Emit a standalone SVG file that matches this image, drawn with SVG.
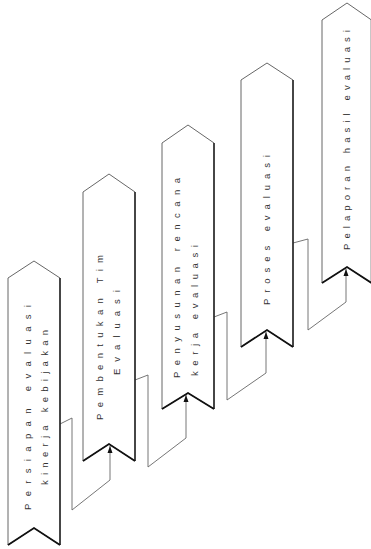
<svg xmlns="http://www.w3.org/2000/svg" width="371" height="549" viewBox="0 0 371 549">
<style>
.box{fill:#fff;stroke:#555;stroke-width:0.9}
.edge{fill:none;stroke:#222;stroke-width:1.5}
.notch{fill:none;stroke:#111;stroke-width:1.8}
.lbl{font-family:"Liberation Sans",Arial,sans-serif;font-size:9.5px;fill:#333}
.con{fill:none;stroke:#666;stroke-width:0.9}
</style>
<defs>
<marker id="arr" markerUnits="userSpaceOnUse" markerWidth="8" markerHeight="8" refX="7" refY="4" orient="auto">
<path d="M0,1.5 L7,4 L0,6.5 Z" fill="#111"/>
</marker>
</defs>
<rect width="371" height="549" fill="#fff"/>
<g id="connectors">
<polyline class="con" points="60,424 72,418 72,510 110,480 110,446" marker-end="url(#arr)"/>
<polyline class="con" points="135,380 148,375 148,467 186,438 186,395" marker-end="url(#arr)"/>
<polyline class="con" points="214,317 227,312 227,400 266,373 266,332" marker-end="url(#arr)"/>
<polyline class="con" points="293,243 308,239 308,330 346,302 346,269" marker-end="url(#arr)"/>
</g>
<g id="node1">
<polygon class="box" points="34,261 60,278 60,545 34,528 8,545 8,278"/>
<line class="edge" x1="60" y1="278" x2="60" y2="545"/>
<polyline class="notch" points="8,545 34,528 60,545"/>
<text class="lbl" transform="translate(31,510) rotate(-90)" textLength="205" lengthAdjust="spacing">Persiapan evaluasi</text>
<text class="lbl" transform="translate(48,485) rotate(-90)" textLength="155" lengthAdjust="spacing">kinerja kebijakan</text>
</g>
<g id="node2">
<polygon class="box" points="109,174 135,192 135,461 109,444 83,461 83,192"/>
<line class="edge" x1="135" y1="192" x2="135" y2="461"/>
<polyline class="notch" points="83,461 109,444 135,461"/>
<text class="lbl" transform="translate(103,420) rotate(-90)" textLength="165" lengthAdjust="spacing">Pembentukan Tim</text>
<text class="lbl" transform="translate(120,375) rotate(-90)" textLength="85" lengthAdjust="spacing">Evaluasi</text>
</g>
<g id="node3">
<polygon class="box" points="188,125 214,143 214,409 188,393 162,409 162,143"/>
<line class="edge" x1="214" y1="143" x2="214" y2="409"/>
<polyline class="notch" points="162,409 188,393 214,409"/>
<text class="lbl" transform="translate(180,378) rotate(-90)" textLength="200" lengthAdjust="spacing">Penyusunan rencana</text>
<text class="lbl" transform="translate(198,376) rotate(-90)" textLength="131" lengthAdjust="spacing">kerja evaluasi</text>
</g>
<g id="node4">
<polygon class="box" points="267,63 293,80 293,347 267,330 241,347 241,80"/>
<line class="edge" x1="293" y1="80" x2="293" y2="347"/>
<polyline class="notch" points="241,347 267,330 293,347"/>
<text class="lbl" transform="translate(270,305) rotate(-90)" textLength="150" lengthAdjust="spacing">Proses evaluasi</text>
</g>
<g id="node5">
<polygon class="box" points="347,3 371.5,20 371.5,283 347,267 322,283 322,20"/>
<line class="edge" x1="371.5" y1="20" x2="371.5" y2="283"/>
<polyline class="notch" points="322,283 347,267 371.5,283"/>
<text class="lbl" transform="translate(350,250) rotate(-90)" textLength="220" lengthAdjust="spacing">Pelaporan hasil evaluasi</text>
</g>
</svg>
